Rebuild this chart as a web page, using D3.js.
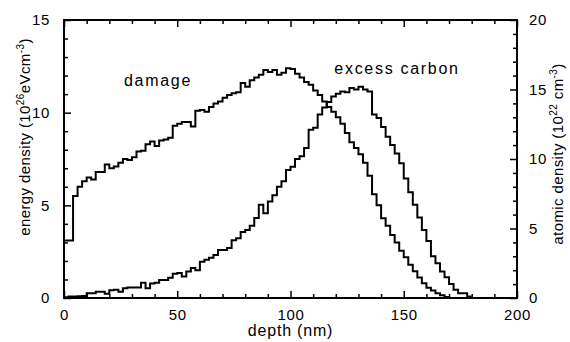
<!DOCTYPE html>
<html><head><meta charset="utf-8">
<script src="https://cdn.jsdelivr.net/npm/d3@7/dist/d3.min.js"></script>
<style>body{margin:0;background:#fff} text{font-family:"Liberation Sans",Arial,sans-serif;fill:#000}</style>
</head><body><svg id="c" width="570" height="342"></svg>
<script>
const binWidth = 2; // nm per histogram bin
const damage = [3.1,3.1,5.5,6.0,6.3,6.5,6.4,6.8,6.8,7.2,
  7.0,7.1,7.3,7.5,7.45,7.6,7.9,7.95,8.3,8.45,
  8.2,8.5,8.55,8.65,9.3,9.4,9.5,9.5,9.25,10.1,
  10.15,10.05,10.3,10.5,10.6,10.8,10.95,11.05,11.1,11.6,
  11.4,11.75,11.9,12.05,12.3,12.2,12.3,12.05,12.15,12.4,
  12.35,12.1,11.9,11.65,11.5,11.2,10.95,10.6,10.3,10.05,
  9.75,9.4,8.9,8.4,8.1,7.75,7.3,6.6,5.6,5.0,
  4.3,3.9,3.4,3.0,2.55,2.2,1.8,1.45,1.1,0.8,
  0.55,0.4,0.25,0.15,0.05,0,0,0,0,0];
const carbon = [0.05,0.1,0.1,0.12,0.15,0.35,0.35,0.45,0.45,0.3,
  0.55,0.6,0.45,0.7,0.75,0.75,0.75,1.1,0.7,1.05,
  1.1,1.3,1.3,1.45,1.75,1.8,1.55,1.9,2.15,2.0,
  2.6,2.75,2.9,3.1,3.45,3.45,3.6,4.15,4.3,4.75,
  4.9,5.2,5.75,6.7,6.1,6.95,7.4,8.0,8.4,9.2,
  9.45,10.0,10.2,10.8,12.1,12.25,13.2,13.7,14.1,14.5,
  14.7,14.85,14.8,15.1,15.0,15.2,15.0,14.85,13.2,12.95,
  12.3,11.6,11.0,10.4,9.7,8.6,7.6,6.7,5.8,4.9,
  4.1,3.0,2.5,1.9,1.5,1.0,0.6,0.35,0.35,0.1];
const xTicks = [0,50,100,150,200];
const yLeftTicks = [0,5,10,15];
const yRightTicks = [0,5,10,15,20];

const L=64, R=517, T=20, B=298;
const svg = d3.select('#c');
const x = d3.scaleLinear().domain([0,200]).range([L,R]);
const yL = d3.scaleLinear().domain([0,15]).range([B,T]);
const yR = d3.scaleLinear().domain([0,20]).range([B,T]);

function stepPts(arr){
  const p = arr.map((v,i)=>[i*binWidth, v]);
  p.push([arr.length*binWidth, arr[arr.length-1]]);
  return p;
}
const lineL = d3.line().x(d=>x(d[0])).y(d=>yL(d[1])).curve(d3.curveStepAfter);
const lineR = d3.line().x(d=>x(d[0])).y(d=>yR(d[1])).curve(d3.curveStepAfter);

svg.append('path').attr('d', lineR(stepPts(carbon))).attr('fill','none').attr('stroke','#000').attr('stroke-width',2).attr('stroke-linejoin','miter');
svg.append('path').attr('d', lineL(stepPts(damage))).attr('fill','none').attr('stroke','#000').attr('stroke-width',2).attr('stroke-linejoin','miter');

const fs = 15;
function axisStyle(g){ g.select('.domain').remove(); g.selectAll('line').attr('stroke','#000').attr('stroke-width',1.5); g.selectAll('text').attr('font-size',fs).attr('letter-spacing',0.6).style('font-family','"Liberation Sans",Arial,sans-serif'); }
const minorX = d3.range(0,201,10);
const minorYL = d3.range(0,16,1);
const minorYR = d3.range(0,21,1);

let g;
// bottom
g = svg.append('g').attr('transform',`translate(0,${B})`)
  .call(d3.axisBottom(x).tickValues(xTicks).tickSizeInner(-7).tickSizeOuter(0).tickPadding(11).tickFormat(d3.format('d')));
axisStyle(g);
g = svg.append('g').attr('transform',`translate(0,${B})`)
  .call(d3.axisBottom(x).tickValues(minorX.filter(v=>v%50)).tickSizeInner(-4).tickSizeOuter(0).tickFormat(''));
axisStyle(g);
// top
g = svg.append('g').attr('transform',`translate(0,${T})`)
  .call(d3.axisTop(x).tickValues(xTicks).tickSizeInner(-7).tickSizeOuter(0).tickFormat(''));
axisStyle(g);
g = svg.append('g').attr('transform',`translate(0,${T})`)
  .call(d3.axisTop(x).tickValues(minorX.filter(v=>v%50)).tickSizeInner(-4).tickSizeOuter(0).tickFormat(''));
axisStyle(g);
// left
g = svg.append('g').attr('transform',`translate(${L},0)`)
  .call(d3.axisLeft(yL).tickValues(yLeftTicks).tickSizeInner(-7).tickSizeOuter(0).tickPadding(14).tickFormat(d3.format('d')));
axisStyle(g);
g = svg.append('g').attr('transform',`translate(${L},0)`)
  .call(d3.axisLeft(yL).tickValues(minorYL.filter(v=>v%5)).tickSizeInner(-4).tickSizeOuter(0).tickFormat(''));
axisStyle(g);
// right
g = svg.append('g').attr('transform',`translate(${R},0)`)
  .call(d3.axisRight(yR).tickValues(yRightTicks).tickSizeInner(-7).tickSizeOuter(0).tickPadding(12).tickFormat(d3.format('d')));
axisStyle(g);
g = svg.append('g').attr('transform',`translate(${R},0)`)
  .call(d3.axisRight(yR).tickValues(minorYR.filter(v=>v%5)).tickSizeInner(-4).tickSizeOuter(0).tickFormat(''));
axisStyle(g);

// frame
svg.append('rect').attr('x',L).attr('y',T).attr('width',R-L).attr('height',B-T).attr('fill','none').attr('stroke','#000').attr('stroke-width',2);

// labels
svg.append('text').attr('x',(L+R)/2).attr('y',336).attr('text-anchor','middle').attr('font-size',16).attr('letter-spacing',0.8).text('depth (nm)');

const lt = svg.append('text').attr('transform','translate(30,137) rotate(-90)').attr('text-anchor','middle').attr('font-size',15).attr('letter-spacing',0.4);
lt.append('tspan').text('energy density (10');
lt.append('tspan').attr('font-size',10).attr('dy',-6).text('26');
lt.append('tspan').attr('dy',6).text('eVcm');
lt.append('tspan').attr('font-size',10).attr('dy',-6).text('-3');
lt.append('tspan').attr('dy',6).text(')');

const rt = svg.append('text').attr('transform','translate(563,154) rotate(-90)').attr('text-anchor','middle').attr('font-size',15).attr('letter-spacing',0.4);
rt.append('tspan').text('atomic density  (10');
rt.append('tspan').attr('font-size',10).attr('dy',-6).text('22');
rt.append('tspan').attr('dy',6).text(' cm');
rt.append('tspan').attr('font-size',10).attr('dy',-6).text('-3');
rt.append('tspan').attr('dy',6).text(')');

svg.append('text').attr('x',158).attr('y',86).attr('text-anchor','middle').attr('font-size',16).attr('letter-spacing',1.7).text('damage');
svg.append('text').attr('x',397).attr('y',74).attr('text-anchor','middle').attr('font-size',16).attr('letter-spacing',1.7).text('excess carbon');
</script></body></html>
